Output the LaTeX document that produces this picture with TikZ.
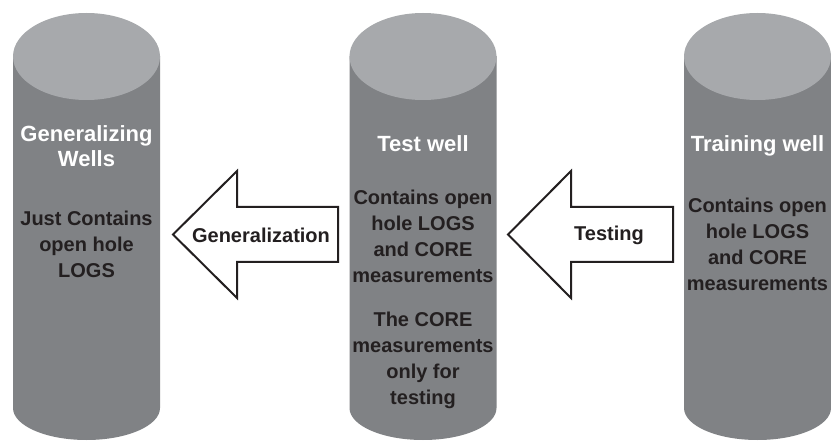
\documentclass[tikz,border=0pt]{standalone}
\usepackage{fontspec}
\setmainfont{Liberation Sans}
\definecolor{cylbody}{HTML}{808285}
\definecolor{cyltop}{HTML}{A7A9AC}
\definecolor{ink}{HTML}{231F20}
\tikzset{
  cylside/.style={fill=cylbody},
  cyltopfill/.style={fill=cyltop},
  bigarrow/.style={draw=ink, fill=white, line width=2pt, line join=miter},
  titletext/.style={text=white, font=\bfseries\fontsize{22}{25}\selectfont, align=center, inner sep=0pt},
  bodytext/.style={text=ink, font=\bfseries\fontsize{20}{26}\selectfont, align=center, inner sep=0pt},
  arrowtext/.style={text=ink, font=\bfseries\fontsize{20}{26}\selectfont, inner sep=0pt},
}
\newcommand{\mywell}[2]{%
  \path[cylside] (#1-73.5,56) -- (#1-73.5,408)
     arc[start angle=180, end angle=360, x radius=73.5pt, y radius=32pt]
     -- (#1+73.5,56) -- cycle;
  \path[cyltopfill] (#1,56.5) ellipse[x radius=73.5pt, y radius=43.5pt];
  \coordinate (#2) at (#1,56.5);
}
\begin{document}
\begin{tikzpicture}[x=1pt,y=-1pt]
\useasboundingbox (0,0) rectangle (831,441);
\fill[white] (0,0) rectangle (831,441);
% wells
\mywell{86.5}{w1}
\mywell{423}{w2}
\mywell{757.5}{w3}
% arrows
\path[bigarrow] (173,234.5) -- (237,171) -- (237,207) -- (338,207) -- (338,262) -- (237,262) -- (237,298) -- cycle;
\path[bigarrow] (508,234.5) -- (571,171) -- (571,207) -- (673,207) -- (673,262) -- (571,262) -- (571,298) -- cycle;
\node[arrowtext] (gen) at (261,235.5) {Generalization};
\node[arrowtext] (tst) at (609,235.5) {Testing};
% texts
\node[titletext] (t1) at (86.5,146.5) {Generalizing\\Wells};
\node[bodytext] (b1) at (86.5,244) {Just Contains\\open hole\\LOGS};
\node[titletext] (t2) at (423,144) {Test well};
\node[bodytext] (b2) at (423,236) {Contains open\\hole LOGS\\and CORE\\measurements};
\node[bodytext] (b3) at (423,360) {The CORE\\measurements\\only for\\testing};
\node[titletext] (t3) at (757.5,146) {Training well};
\node[bodytext] (b4) at (757.5,244) {Contains open\\hole LOGS\\and CORE\\measurements};
\end{tikzpicture}
\end{document}
